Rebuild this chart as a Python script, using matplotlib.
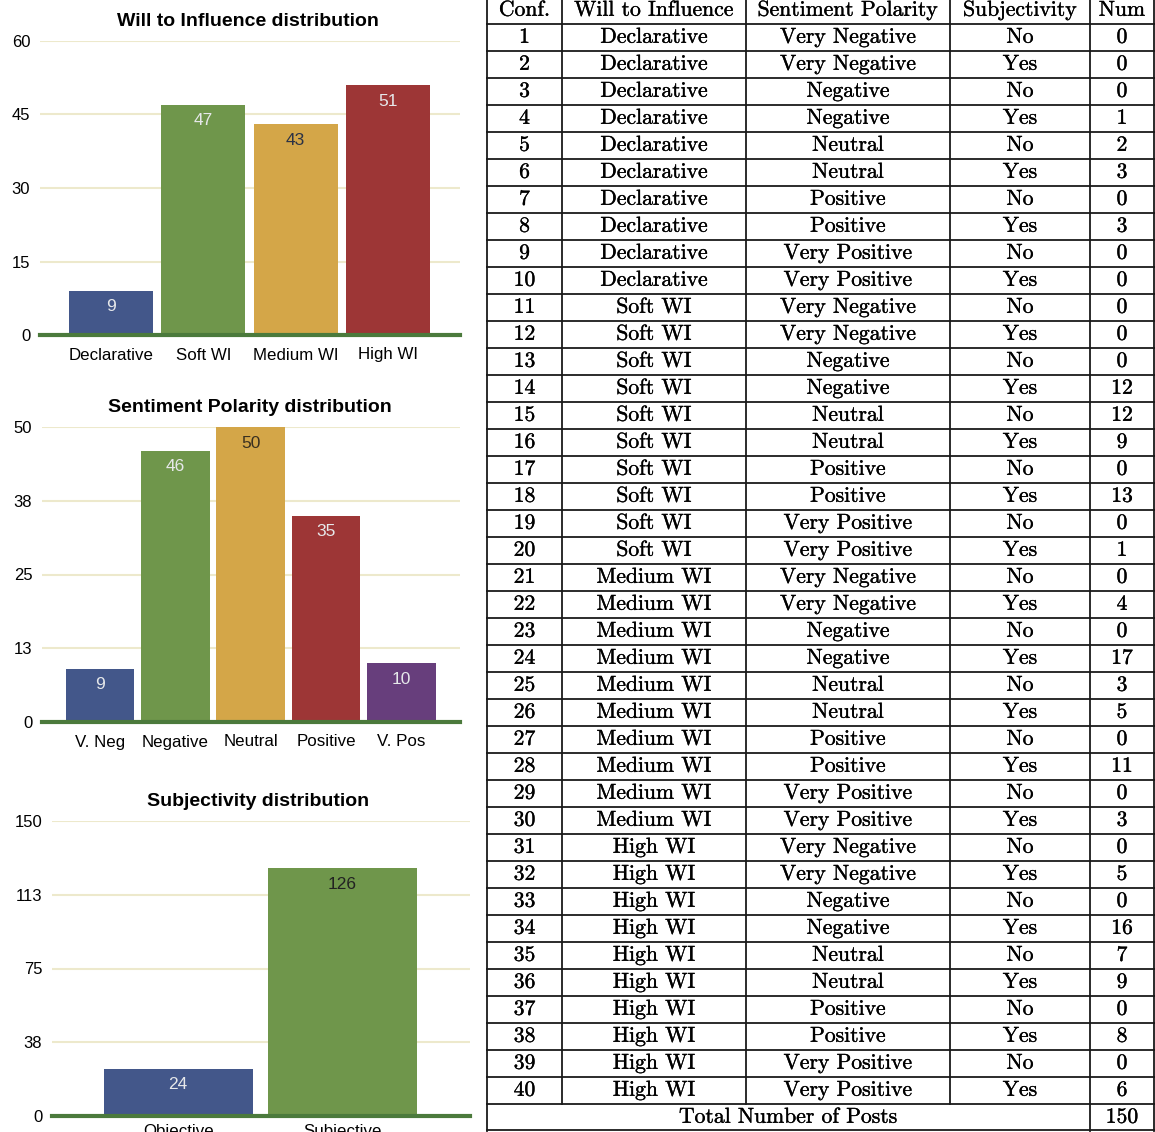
import matplotlib
matplotlib.use('Agg')
import matplotlib.pyplot as plt
import matplotlib.patheffects as pe
import numpy as np

# ---- data ----
wi_labels = ['Declarative', 'Soft WI', 'Medium WI', 'High WI']
wi_counts = [9, 47, 43, 51]
wi_ticks = [0, 15, 30, 45, 60]
wi_ticklabels = ['0', '15', '30', '45', '60']

sp_labels = ['V. Neg', 'Negative', 'Neutral', 'Positive', 'V. Pos']
sp_counts = [9, 46, 50, 35, 10]
sp_ticks = [0, 12.5, 25, 37.5, 50]
sp_ticklabels = ['0', '13', '25', '38', '50']

subj_labels = ['Objective', 'Subjective']
subj_counts = [24, 126]
subj_ticks = [0, 37.5, 75, 112.5, 150]
subj_ticklabels = ['0', '38', '75', '113', '150']

table_header = ['Conf.', 'Will to Influence', 'Sentiment Polarity', 'Subjectivity', 'Num']
conf_col = list(range(1, 41))
wi_col = ['Declarative'] * 10 + ['Soft WI'] * 10 + ['Medium WI'] * 10 + ['High WI'] * 10
sent_col = ['Very Negative', 'Very Negative', 'Negative', 'Negative', 'Neutral',
            'Neutral', 'Positive', 'Positive', 'Very Positive', 'Very Positive'] * 4
subj_col = ['No', 'Yes'] * 20
num_col = [0, 0, 0, 1, 2, 3, 0, 3, 0, 0,
           0, 0, 0, 12, 12, 9, 0, 13, 0, 1,
           0, 4, 0, 17, 3, 5, 0, 11, 0, 3,
           0, 5, 0, 16, 7, 9, 0, 8, 0, 6]
total_label = 'Total Number of Posts'
total_posts = 150

# ---- style ----
blue, green, gold, red, purple = '#43578a', '#6f964b', '#d4a648', '#9d3636', '#673e7c'
grid_c = '#ede9cc'
base_c = '#4b7a3c'
sans = 'Liberation Sans'
serif = 'cmr10'

W, H = 1155, 1132
fig = plt.figure(figsize=(W / 100, H / 100), dpi=100)


def px_axes(left, top, right, bottom):
    return fig.add_axes([left / W, 1 - bottom / H, (right - left) / W, (bottom - top) / H])


def bar_panel(box, title, title_xy, labels, counts, ticks, ticklabels, colors, txt_colors,
              xpad=9):
    ax = px_axes(*box)
    x = np.arange(len(labels))
    ax.bar(x, counts, width=0.91, color=colors, edgecolor='none', zorder=2)
    ax.set_xlim(-0.77, len(labels) - 1 + 0.78)
    ax.set_ylim(0, ticks[-1])
    ax.set_yticks(ticks)
    ax.set_yticklabels(ticklabels, fontsize=12, family=sans)
    ax.set_xticks(x)
    ax.set_xticklabels(labels, fontsize=12.2, family=sans)
    ax.tick_params(length=0, pad=7)
    ax.tick_params(axis='x', pad=xpad)
    ax.yaxis.grid(True, color=grid_c, lw=1.5)
    ax.set_axisbelow(True)
    for s in ax.spines.values():
        s.set_visible(False)
    ax.axhline(0, color=base_c, lw=3, zorder=3, clip_on=False)
    off = ticks[-1] * 16 / 295
    for xi, c, tc in zip(x, counts, txt_colors):
        ax.text(xi, c - off, str(c), ha='center', va='center', fontsize=12.5,
                family=sans, color=tc, zorder=4)
    fig.text(title_xy[0] / W, 1 - title_xy[1] / H, title, ha='center', va='center',
             fontsize=14, fontweight='bold', family=sans)
    return ax


light = '#e6e8ea'
bar_panel((40, 41, 460, 335), 'Will to Influence distribution', (248, 21),
          wi_labels, wi_counts, wi_ticks, wi_ticklabels,
          [blue, green, gold, red], [light, light, '#2b3245', light])
bar_panel((42, 427, 460, 722), 'Sentiment Polarity distribution', (250, 408),
          sp_labels, sp_counts, sp_ticks, sp_ticklabels,
          [blue, green, gold, red, purple], [light, light, '#3a3020', light, light])
bar_panel((52, 821, 470, 1116), 'Subjectivity distribution', (258, 802),
          subj_labels, subj_counts, subj_ticks, subj_ticklabels,
          [blue, green], [light, '#222222'], xpad=6)

# ---- table ----
tax = fig.add_axes([0, 0, 1, 1])
tax.set_xlim(0, W)
tax.set_ylim(H, 0)
tax.axis('off')
tax.patch.set_visible(False)

col_edges = [487, 562, 746, 950, 1090, 1154]
col_centers = [(a + b) / 2 for a, b in zip(col_edges[:-1], col_edges[1:])]
row_h = 27
y0 = 10  # header centre
line_kw = dict(color='#1a1a1a', lw=1.3)
fs = 15.6
stroke = [pe.withStroke(linewidth=0.25, foreground='black')]

rows = [table_header] + [[str(c), w, s, sj, str(n)] for c, w, s, sj, n in
                          zip(conf_col, wi_col, sent_col, subj_col, num_col)]
for i, r in enumerate(rows):
    yc = y0 + i * row_h
    for xc, val in zip(col_centers, r):
        tax.text(xc, yc, val, ha='center', va='center', fontsize=fs, family=serif,
                 path_effects=stroke)
    for xe in col_edges:
        tax.plot([xe, xe], [yc - row_h / 2, yc + row_h / 2], **line_kw)
    tax.plot([col_edges[0], col_edges[-1]], [yc + row_h / 2] * 2, **line_kw)

yt = y0 + len(rows) * row_h
tax.text((col_edges[0] + col_edges[4]) / 2, yt, total_label, ha='center', va='center',
         fontsize=fs, family=serif, path_effects=stroke)
tax.text(col_centers[4], yt, str(total_posts), ha='center', va='center', fontsize=fs,
         family=serif, path_effects=stroke)
for xe in [col_edges[0], col_edges[4], col_edges[5]]:
    tax.plot([xe, xe], [yt - row_h / 2, yt + row_h / 2], **line_kw)
tax.plot([col_edges[0], col_edges[-1]], [yt + row_h / 2 - 0.7] * 2, **line_kw)

fig.savefig('out.png', dpi=100)
